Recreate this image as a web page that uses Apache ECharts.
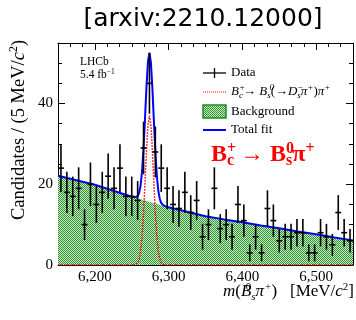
<!DOCTYPE html>
<html>
<head>
<meta charset="utf-8">
<script src="https://cdn.jsdelivr.net/npm/echarts@6/dist/echarts.min.js"></script>
<style>html,body{margin:0;padding:0;background:#fff;}#c{width:356px;height:320px;}</style>
</head>
<body>
<div id="c"></div>
<script>
// ---- data ----
const binCenters = [6154,6162,6170,6178,6186,6194,6202,6210,6218,6226,6234,6242,6250,6258,6266,6274,6282,6290,6298,6306,
  6314,6322,6330,6338,6346,6354,6362,6370,6378,6386,6394,6402,6410,6418,6426,6434,6442,6450,6458,6466,
  6474,6482,6490,6498,6506,6514,6522,6530,6538,6546];
const counts = [24,18,17,19,10,20,15,18,22,19,24,17,17,16,29,45,28,24,19,15,
  14,18,13,16,7,10,19,9,10,7,15,11,3,7,3,14,11,6,7,7,
  8,8,3,3,8,7,5,13,8,6];
const errors = [5.9,5.1,4.9,5.2,3.8,5.4,4.6,5.1,5.6,5.2,5.9,4.9,4.9,4.8,6.5,7.5,6.3,5.9,5.2,4.6,
  4.5,5.1,4.3,4.8,3.2,3.8,5.2,3.6,3.8,3.2,4.6,4.0,2.1,3.2,2.1,4.5,4.0,2.9,3.2,3.2,
  3.4,3.4,2.1,2.1,3.4,3.2,2.7,4.3,3.4,2.9];
const binHalfWidth = 4;

const fitX =   [6150,6175,6200,6225,6250,6254,6256,6258,6260,6262,6264,6266,6268,6270,6272,6274,6276,6278,6280,6282,6284,6286,6288,6290,6292,6294,6300,6325,6350,6375,6400,6425,6450,6475,6500,6525,6550];
const bkgY =   [22.1,21.0,19.9,18.4,16.9,16.7,16.6,16.5,16.4,16.3,16.2,16.1,16.0,15.9,15.8,15.6,15.5,15.4,15.3,15.2,15.1,15.0,14.9,14.8,14.7,14.6,14.3,13.2,12.1,11.3,10.6,9.8,9.1,8.3,7.6,6.8,6.1];
const sigY =   [0,0,0,0,0,0.05,0.17,0.54,1.45,3.4,7.1,12.8,20.4,28.4,34.6,37,34.6,28.4,20.4,12.8,7.1,3.4,1.45,0.54,0.17,0.05,0,0,0,0,0,0,0,0,0,0,0];
const totalY = [22.1,21.0,19.9,18.4,16.9,16.75,16.77,17.04,17.85,19.7,23.3,28.9,36.4,44.3,50.4,52.6,50.1,43.8,35.7,28.0,22.2,18.4,16.35,15.34,14.87,14.65,14.3,13.2,12.1,11.3,10.6,9.8,9.1,8.3,7.6,6.8,6.1];

const xMajorTicks = [6200,6300,6400,6500];
const xMinorTicks = [6166.67,6183.33,6216.67,6233.33,6250,6266.67,6283.33,6316.67,6333.33,6350,6366.67,6383.33,
  6416.67,6433.33,6450,6466.67,6483.33,6516.67,6533.33];
const yMajorTicks = [0,20,40];
const yMinorTicks = [5,10,15,25,30,35,45,50];

// ---- styling ----
const serif = '"Liberation Serif", "DejaVu Serif", serif';
const pc = document.createElement('canvas');
pc.width = 2; pc.height = 2;
const pctx = pc.getContext('2d');
pctx.fillStyle = '#cfe9cf'; pctx.fillRect(0,0,2,2);
pctx.fillStyle = '#2a962a'; pctx.fillRect(0,0,1,1); pctx.fillRect(1,1,1,1);
const hatch = {image: pc, repeat: 'repeat'};

const chart = echarts.init(document.getElementById('c'), null, {renderer: 'canvas'});
const X0 = 6150, X1 = 6550, Y0 = 0, Y1 = 55;
const lineBlack = {color: '#000', width: 1};

function xAx(pos, major, showLabel) {
  return {
    type: 'value', min: X0, max: X1, position: pos,
    axisLine: {show: major, onZero: false, lineStyle: lineBlack},
    axisTick: {show: true, inside: true, length: major ? 7 : 4, customValues: major ? xMajorTicks : xMinorTicks, lineStyle: lineBlack},
    axisLabel: {show: showLabel, customValues: xMajorTicks, color: '#000', fontFamily: serif, fontSize: 15, margin: 5},
    splitLine: {show: false}
  };
}
function yAx(pos, major, showLabel) {
  return {
    type: 'value', min: Y0, max: Y1, position: pos,
    axisLine: {show: major, onZero: false, lineStyle: lineBlack},
    axisTick: {show: true, inside: true, length: major ? 7 : 4, customValues: major ? yMajorTicks : yMinorTicks, lineStyle: lineBlack},
    axisLabel: {show: showLabel, customValues: yMajorTicks, color: '#000', fontFamily: serif, fontSize: 15, margin: 5},
    splitLine: {show: false}
  };
}

const dataPts = binCenters.map((x, i) => [x, counts[i], errors[i]]);
const bkgData = fitX.map((x, i) => [x, bkgY[i]]);
const sigData = fitX.map((x, i) => [x, sigY[i]]);
const totData = fitX.map((x, i) => [x, totalY[i]]);

const subSup = {
  n: {fontFamily: serif, fontSize: 13, lineHeight: 17, fill: '#000'},
  i: {fontFamily: serif, fontSize: 13, fontStyle: 'italic', lineHeight: 17, fill: '#000'},
  sp: {fontFamily: serif, fontSize: 9, fontStyle: 'italic', verticalAlign: 'top', lineHeight: 10, fill: '#000'},
  sp0: {fontFamily: serif, fontSize: 9, fontStyle: 'italic', verticalAlign: 'top', lineHeight: 10, width: 0, fill: '#000'},
  sb: {fontFamily: serif, fontSize: 9, fontStyle: 'italic', verticalAlign: 'bottom', lineHeight: 10, fill: '#000'}
};

chart.setOption({
  animation: false,
  backgroundColor: '#fff',
  title: {
    text: '[arxiv:2210.12000]', left: 198, top: 2, textAlign: 'center',
    textStyle: {fontFamily: '"DejaVu Sans", sans-serif', fontWeight: 'normal', fontSize: 25, color: '#000'}
  },
  grid: {left: 58, right: 3, top: 43, bottom: 55, containLabel: false},
  xAxis: [xAx('bottom', true, true), xAx('bottom', false, false), xAx('top', true, false), xAx('top', false, false)],
  yAxis: [yAx('left', true, true), yAx('left', false, false), yAx('right', true, false), yAx('right', false, false)],
  series: [
    {type: 'line', name: 'Background', data: bkgData, symbol: 'none', smooth: false,
     lineStyle: {width: 0}, areaStyle: {color: hatch, opacity: 1}, z: 1},
    {type: 'line', name: 'Signal', data: sigData, symbol: 'none',
     lineStyle: {color: '#ff0000', width: 1.5, type: 'dotted'}, z: 2},
    {type: 'line', name: 'Total fit', data: totData, symbol: 'none',
     lineStyle: {color: '#0000ff', width: 2}, z: 3},
    {type: 'custom', name: 'Data', data: dataPts, z: 4,
     renderItem: function (params, api) {
       const x = api.value(0), y = api.value(1), e = api.value(2);
       const c = api.coord([x, y]);
       const t = api.coord([x, y + e]);
       const b = api.coord([x, Math.max(0, y - e)]);
       const l = api.coord([x - binHalfWidth, y]);
       const r = api.coord([x + binHalfWidth, y]);
       return {type: 'group', children: [
         {type: 'line', shape: {x1: c[0], y1: t[1], x2: c[0], y2: b[1]}, style: {stroke: '#000', lineWidth: 1.6}},
         {type: 'line', shape: {x1: l[0], y1: c[1], x2: r[0], y2: c[1]}, style: {stroke: '#000', lineWidth: 1.6}}
       ]};
     }}
  ],
  graphic: [
    // axis titles
    {type: 'text', x: 19, y: 130, rotation: Math.PI / 2, z: 10,
     style: {text: '{n|Candidates / (5 MeV/}{i|c}{sp|2}{n|)}', align: 'center', verticalAlign: 'middle',
       rich: {n: {fontFamily: serif, fontSize: 18.5, lineHeight: 22, fill: '#000'},
              i: {fontFamily: serif, fontSize: 18.5, fontStyle: 'italic', lineHeight: 22, fill: '#000'},
              sp: {fontFamily: serif, fontSize: 12, verticalAlign: 'top', lineHeight: 12, fill: '#000'}}}},
    {type: 'text', x: 354, y: 292, z: 10,
     style: {text: '{i|m}{n|(}{i|B}{sp0| 0}{sb|s}{i|π}{sp|+}{n|)   [MeV/}{i|c}{spn|2}{n|]}', align: 'right', verticalAlign: 'middle',
       rich: {n: {fontFamily: serif, fontSize: 17, lineHeight: 21, fill: '#000'},
              i: {fontFamily: serif, fontSize: 17, fontStyle: 'italic', lineHeight: 21, fill: '#000'},
              sp: {fontFamily: serif, fontSize: 11, fontStyle: 'italic', verticalAlign: 'top', lineHeight: 11, fill: '#000'},
              spn: {fontFamily: serif, fontSize: 11, verticalAlign: 'top', lineHeight: 11, fill: '#000'},
              sp0: {fontFamily: serif, fontSize: 11, verticalAlign: 'top', lineHeight: 11, width: 0, fill: '#000'},
              sb: {fontFamily: serif, fontSize: 11, fontStyle: 'italic', verticalAlign: 'bottom', lineHeight: 11, fill: '#000'}}}},
    // LHCb label
    {type: 'text', x: 80, y: 62, z: 10, style: {text: 'LHCb', fontFamily: serif, fontSize: 11.5, fill: '#000', verticalAlign: 'middle'}},
    {type: 'text', x: 80, y: 75, z: 10,
     style: {text: '{n|5.4 fb}{sp|−1}', verticalAlign: 'middle',
       rich: {n: {fontFamily: serif, fontSize: 11.5, lineHeight: 13, fill: '#000'},
              sp: {fontFamily: serif, fontSize: 7.5, verticalAlign: 'top', lineHeight: 7, fill: '#000'}}}},
    // legend
    {type: 'line', z: 10, shape: {x1: 203, y1: 73, x2: 226, y2: 73}, style: {stroke: '#000', lineWidth: 1.3}},
    {type: 'line', z: 10, shape: {x1: 214.5, y1: 68, x2: 214.5, y2: 78}, style: {stroke: '#000', lineWidth: 1.3}},
    {type: 'text', x: 231, y: 73, z: 10, style: {text: 'Data', fontFamily: serif, fontSize: 13, fill: '#000', verticalAlign: 'middle'}},
    {type: 'line', z: 10, shape: {x1: 203, y1: 92, x2: 226, y2: 92}, style: {stroke: '#ff3030', lineWidth: 1.2, lineDash: [1, 1]}},
    {type: 'text', x: 231, y: 92, z: 10,
     style: {text: '{i|B}{sp0|+}{sb|c}{n|→ }{i|B}{sp0| 0}{sb|s}{n|(→}{i|D}{sp0|−}{sb|s}{i|π}{sp|+}{n|)}{i|π}{sp|+}', verticalAlign: 'middle', rich: subSup}},
    {type: 'rect', z: 10, shape: {x: 203, y: 105, width: 23, height: 13}, style: {fill: hatch, stroke: '#1a8f1a', lineWidth: 1.5}},
    {type: 'text', x: 231, y: 111.5, z: 10, style: {text: 'Background', fontFamily: serif, fontSize: 13, fill: '#000', verticalAlign: 'middle'}},
    {type: 'line', z: 10, shape: {x1: 203, y1: 130, x2: 226, y2: 130}, style: {stroke: '#0000ff', lineWidth: 2}},
    {type: 'text', x: 231, y: 130, z: 10, style: {text: 'Total fit', fontFamily: serif, fontSize: 13, fill: '#000', verticalAlign: 'middle'}},
    // red annotation
    {type: 'text', x: 211, y: 155, z: 10,
     style: {text: '{b|B}{p0|+}{s|c}{b| → B}{p0|0}{s|s}{b|π}{p|+}', verticalAlign: 'middle',
       rich: {b: {fontFamily: serif, fontSize: 24, fontWeight: 'bold', lineHeight: 28, fill: '#ff0000'},
              p: {fontFamily: serif, fontSize: 16, fontWeight: 'bold', verticalAlign: 'top', lineHeight: 15, fill: '#ff0000'},
              p0: {fontFamily: serif, fontSize: 16, fontWeight: 'bold', verticalAlign: 'top', lineHeight: 15, width: 0, fill: '#ff0000'},
              s: {fontFamily: serif, fontSize: 16, fontWeight: 'bold', verticalAlign: 'bottom', lineHeight: 15, fill: '#ff0000'}}}}
  ]
});
</script>
</body>
</html>
